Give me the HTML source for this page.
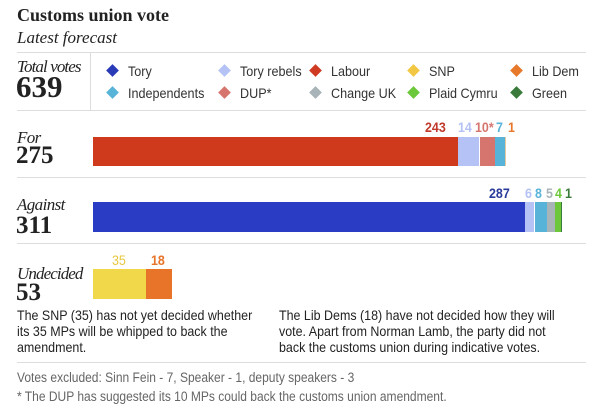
<!DOCTYPE html><html><head><style>
body{margin:0;background:#fff;width:616px;height:418px;position:relative;overflow:hidden;font-family:"Liberation Sans",sans-serif;color:#222}
.a{position:absolute;white-space:nowrap}
.c{transform:scaleX(.89);transform-origin:0 0}
.s{font-family:"Liberation Serif",serif;line-height:1}
.i{font-size:17px;font-style:italic;letter-spacing:-0.6px}
.lg{font-size:14px;line-height:16px;color:#333;transform:scaleX(.9);transform-origin:0 0}
.d{position:absolute;width:9px;height:9px;transform:rotate(45deg)}
.n{font-size:14px;line-height:16px;font-weight:bold}
.t{font-size:14px;line-height:16px;color:#222;transform:scaleX(.89);transform-origin:0 0}
</style></head><body>
<div class="a s" style="left:17px;top:6px;font-size:18px;font-weight:bold">Customs union vote</div>
<div class="a s" style="left:17px;top:29px;font-size:17px;font-style:italic">Latest forecast</div>
<div class="a" style="left:17px;top:52px;width:569px;height:1px;background:#ddd"></div>
<div class="a" style="left:90px;top:52px;width:1px;height:58px;background:#ddd"></div>
<div class="a" style="left:17px;top:110px;width:569px;height:1px;background:#ddd"></div>
<div class="a s i" style="left:17px;top:58px;letter-spacing:-0.9px">Total votes</div>
<div class="a s" style="left:16px;top:71px;font-size:31px;font-weight:bold">639</div>

<div class="d" style="left:108px;top:66px;background:#2a3bb8"></div><div class="a lg" style="left:128px;top:63px">Tory</div>
<div class="d" style="left:220px;top:66px;background:#b4c2f5"></div><div class="a lg" style="left:240px;top:63px">Tory rebels</div>
<div class="d" style="left:311px;top:66px;background:#cf3a22"></div><div class="a lg" style="left:331px;top:63px">Labour</div>
<div class="d" style="left:409px;top:66px;background:#f2c744"></div><div class="a lg" style="left:429px;top:63px">SNP</div>
<div class="d" style="left:512px;top:66px;background:#e8782a"></div><div class="a lg" style="left:532px;top:63px">Lib Dem</div>
<div class="d" style="left:108px;top:88px;background:#58b3d8"></div><div class="a lg" style="left:128px;top:85px">Independents</div>
<div class="d" style="left:220px;top:88px;background:#d6756e"></div><div class="a lg" style="left:240px;top:85px">DUP*</div>
<div class="d" style="left:311px;top:88px;background:#a8b4b8"></div><div class="a lg" style="left:331px;top:85px">Change UK</div>
<div class="d" style="left:409px;top:88px;background:#6cc83a"></div><div class="a lg" style="left:429px;top:85px">Plaid Cymru</div>
<div class="d" style="left:512px;top:88px;background:#3a7a3a"></div><div class="a lg" style="left:532px;top:85px">Green</div>

<div class="a s i" style="left:17px;top:129px">For</div>
<div class="a s" style="left:16px;top:143px;font-size:25px;font-weight:bold">275</div>
<div class="a" style="left:93px;top:137px;height:29px;width:365px;background:#cf3a1c"></div>
<div class="a" style="left:458px;top:137px;height:29px;width:21px;background:#b4c2f5"></div>
<div class="a" style="left:480px;top:137px;height:29px;width:15px;background:#d6756e"></div>
<div class="a" style="left:495px;top:137px;height:29px;width:10px;background:#58b3d8"></div>
<div class="a" style="left:505px;top:137px;height:29px;width:1px;background:#e8c8a0"></div>
<div class="a n c" style="left:425px;top:119px;color:#c0392b">243</div>
<div class="a n c" style="left:458px;top:119px;color:#b4c2f5">14</div>
<div class="a n c" style="left:475px;top:119px;color:#d6756e">10*</div>
<div class="a n c" style="left:496px;top:119px;color:#58b3d8">7</div>
<div class="a n c" style="left:508px;top:119px;color:#e8782a">1</div>
<div class="a" style="left:17px;top:177px;width:569px;height:1px;background:#ddd"></div>

<div class="a s i" style="left:17px;top:196px">Against</div>
<div class="a s" style="left:16px;top:213px;font-size:25px;font-weight:bold">311</div>
<div class="a" style="left:93px;top:202px;height:30px;width:432px;background:#2a3bc4"></div>
<div class="a" style="left:525px;top:202px;height:30px;width:9px;background:#b4c2f5"></div>
<div class="a" style="left:535px;top:202px;height:30px;width:12px;background:#58b3d8"></div>
<div class="a" style="left:547px;top:202px;height:30px;width:8px;background:#a8b4b8"></div>
<div class="a" style="left:555px;top:202px;height:30px;width:6px;background:#6cc83a"></div>
<div class="a" style="left:561px;top:202px;height:30px;width:1px;background:#3a7a3a"></div>
<div class="a n c" style="left:489px;top:185px;color:#2a3b9a">287</div>
<div class="a n c" style="left:525px;top:185px;color:#b4c2f5">6</div>
<div class="a n c" style="left:535px;top:185px;color:#58b3d8">8</div>
<div class="a n c" style="left:546px;top:185px;color:#a8b4b8">5</div>
<div class="a n c" style="left:555px;top:185px;color:#6cc83a">4</div>
<div class="a n c" style="left:565px;top:185px;color:#3a7a3a">1</div>
<div class="a" style="left:17px;top:243px;width:569px;height:1px;background:#ddd"></div>

<div class="a s i" style="left:17px;top:265px;letter-spacing:-0.9px">Undecided</div>
<div class="a s" style="left:16px;top:280px;font-size:25px;font-weight:bold">53</div>
<div class="a" style="left:93px;top:269px;height:30px;width:53px;background:#f0d84a"></div>
<div class="a" style="left:146px;top:269px;height:30px;width:26px;background:#e8742a"></div>
<div class="a n c" style="left:112px;top:252px;color:#e8c840;font-weight:normal">35</div>
<div class="a n c" style="left:151px;top:252px;color:#e8742a">18</div>
<div class="a t" style="left:17px;top:307px">The SNP (35) has not yet decided whether<br>its 35 MPs will be whipped to back the<br>amendment.</div>
<div class="a t" style="left:279px;top:307px">The Lib Dems (18) have not decided how they will<br>vote. Apart from Norman Lamb, the party did not<br>back the customs union during indicative votes.</div>
<div class="a" style="left:17px;top:362px;width:569px;height:1px;background:#ddd"></div>
<div class="a c" style="left:17px;top:370px;font-size:13.5px;line-height:16px;color:#666">Votes excluded: Sinn Fein - 7, Speaker - 1, deputy speakers - 3</div>
<div class="a c" style="left:17px;top:389px;font-size:13.5px;line-height:16px;color:#666">* The DUP has suggested its 10 MPs could back the customs union amendment.</div>
</body></html>
